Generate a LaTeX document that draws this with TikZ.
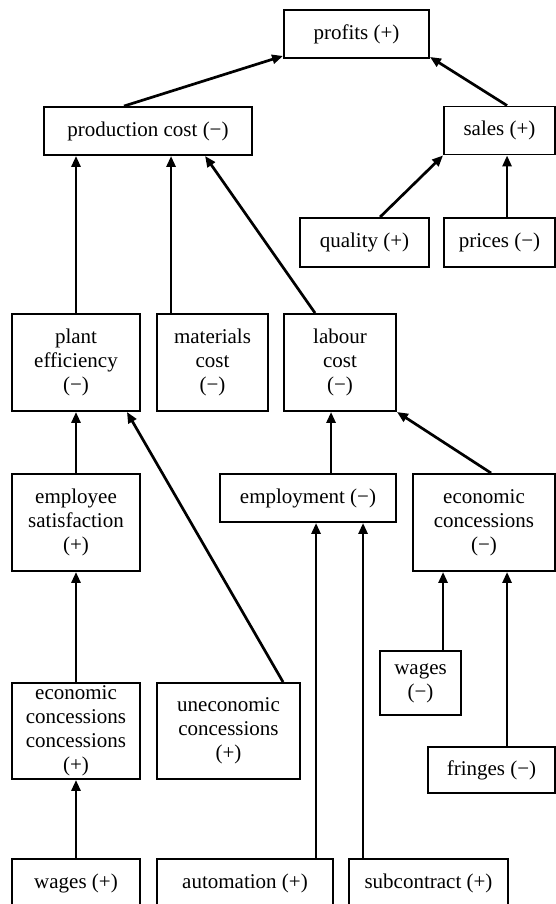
\documentclass[tikz,border=0pt]{standalone}
\usepackage{fontspec}
\setmainfont{Liberation Serif}
\usetikzlibrary{arrows.meta}

\tikzset{
  box/.style={draw, line width=1.9pt, inner sep=0pt, align=center,
    font=\fontsize{21}{24}\selectfont},
  arr/.style={line width=2.7pt, -{Triangle[length=11pt,width=9pt]}},
}

\begin{document}
\begin{tikzpicture}[x=1pt, y=-1pt]
\clip (0,0) rectangle (556,904);
\fill[white] (0,0) rectangle (556,904);

% top level
\node[box, minimum width=145pt, minimum height=48pt] (profits) at (356.5,34) {profits (+)};
\node[box, minimum width=208pt, minimum height=48pt] (prod) at (148,131) {production cost (−)};
\node[box, minimum width=111pt, minimum height=48pt] (sales) at (499.5,130.5) {sales (+)};
\node[box, minimum width=129pt, minimum height=49pt] (quality) at (364.5,242.5) {quality (+)};
\node[box, minimum width=111pt, minimum height=49pt] (prices) at (499.5,242.5) {prices (−)};

% cost components
\node[box, minimum width=128pt, minimum height=97pt] (plant) at (76,362.5) {plant\\efficiency\\(−)};
\node[box, minimum width=111pt, minimum height=97pt] (materials) at (212.5,362.5) {materials\\cost\\(−)};
\node[box, minimum width=112pt, minimum height=97pt] (labour) at (340,362.5) {labour\\cost\\(−)};

% second level
\node[box, minimum width=128pt, minimum height=97pt] (empsat) at (76,522.5) {employee\\satisfaction\\(+)};
\node[box, minimum width=176pt, minimum height=48pt] (employment) at (308,498) {employment (−)};
\node[box, minimum width=142pt, minimum height=97pt] (econR) at (484,522.5) {economic\\concessions\\(−)};

% third level
\node[box, minimum width=81pt, minimum height=64pt] (wagesM) at (420.5,683) {wages\\(−)};
\node[box, minimum width=127pt, minimum height=46pt] (fringes) at (491.5,770) {fringes (−)};
\node[box, minimum width=128pt, minimum height=96pt] (econL) at (76,731) {economic\\concessions\\concessions\\(+)};
\node[box, minimum width=143pt, minimum height=96pt] (unecon) at (228.5,731) {uneconomic\\concessions\\(+)};

% bottom row
\node[box, minimum width=128pt, minimum height=48pt] (wagesP) at (76,883) {wages (+)};
\node[box, minimum width=176pt, minimum height=48pt] (automation) at (245,883) {automation (+)};
\node[box, minimum width=159pt, minimum height=48pt] (subcontract) at (428.5,883) {subcontract (+)};

% connectors
\draw[arr] ([xshift=81pt]prod.north west) -- ([yshift=3pt]profits.south west);
\draw[arr] ([xshift=64pt]sales.north west) -- ([yshift=2pt]profits.south east);
\draw[arr] ([xshift=81pt]quality.north west) -- (sales.south west);
\draw[arr] ([xshift=64pt]prices.north west) -- ([xshift=64pt]sales.south west);

\draw[arr] (plant.north) -- (plant.north |- prod.south);
\draw[arr] ([xshift=15pt]materials.north west) -- ([xshift=15pt]materials.north west |- prod.south);
\draw[arr] ([xshift=32pt]labour.north west) -- ([xshift=162pt]prod.south west);

\draw[arr] (empsat.north) -- (plant.south);
\draw[arr] ([xshift=127pt]unecon.north west) -- ([xshift=-14pt]plant.south east);
\draw[arr] ([xshift=112pt]employment.north west) -- ([xshift=112pt]employment.north west |- labour.south);
\draw[arr] ([xshift=79pt]econR.north west) -- (labour.south east);

\draw[arr] ([xshift=160pt]automation.north west) -- ([xshift=160pt]automation.north west |- employment.south);
\draw[arr] ([xshift=15pt]subcontract.north west) -- ([xshift=15pt]subcontract.north west |- employment.south);
\draw[arr] ([xshift=64pt]wagesM.north west) -- ([xshift=64pt]wagesM.north west |- econR.south);
\draw[arr] ([xshift=80pt]fringes.north west) -- ([xshift=80pt]fringes.north west |- econR.south);

\draw[arr] (wagesP.north) -- (econL.south);
\draw[arr] (econL.north) -- (empsat.south);
\end{tikzpicture}
\end{document}
